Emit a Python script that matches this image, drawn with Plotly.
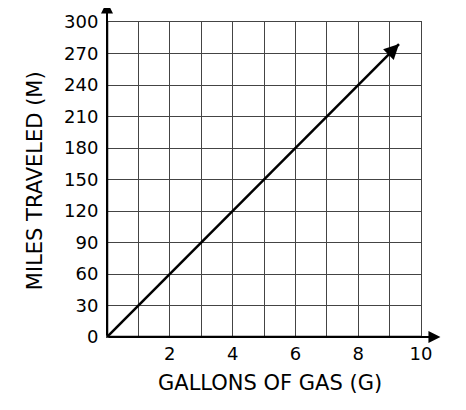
import plotly.graph_objects as go

gallons = [0, 9.3]
miles = [0, 279]
x_ticks = [2, 4, 6, 8, 10]
y_ticks = [0, 30, 60, 90, 120, 150, 180, 210, 240, 270, 300]
x_title = "GALLONS OF GAS (G)"
y_title = "MILES TRAVELED (M)"

font = "'DejaVu Sans', sans-serif"
grid = "#444"

fig = go.Figure()
fig.add_trace(go.Scatter(x=gallons, y=miles, mode="lines",
                         line=dict(color="black", width=2.5), hoverinfo="skip"))

# arrowhead at end of data line
fig.add_annotation(x=gallons[1], y=miles[1], ax=gallons[1] - 0.35, ay=miles[1] - 10.5,
                   xref="x", yref="y", axref="x", ayref="y", text="", showarrow=True,
                   arrowhead=2, arrowsize=1.2, arrowwidth=2.5, arrowcolor="black")
# axis arrows
fig.add_annotation(x=0, y=1.065, ax=0, ay=0, xref="x", yref="y domain", axref="x", ayref="y domain",
                   text="", showarrow=True, arrowhead=2, arrowsize=1.2, arrowwidth=2, arrowcolor="black")
fig.add_annotation(x=1.062, y=0, ax=0, ay=0, xref="x domain", yref="y", axref="x domain", ayref="y",
                   text="", showarrow=True, arrowhead=2, arrowsize=1.2, arrowwidth=2, arrowcolor="black")

# axis titles
fig.add_annotation(text=x_title, xref="paper", yref="paper", x=0.518, y=-0.145,
                   xanchor="center", yanchor="middle", showarrow=False,
                   font=dict(family=font, size=21, color="black"))
fig.add_annotation(text=y_title, xref="paper", yref="paper", x=-0.229, y=0.495,
                   xanchor="center", yanchor="middle", showarrow=False, textangle=-90,
                   font=dict(family=font, size=21, color="black"))

fig.update_layout(
    width=466, height=410,
    margin=dict(l=99, r=53, t=14, b=81),
    plot_bgcolor="white", paper_bgcolor="white",
    showlegend=False,
    font=dict(family=font, color="black", size=16),
)
fig.update_xaxes(range=[0, 10], tickvals=x_ticks, ticktext=[str(v) for v in x_ticks],
                 showgrid=True, gridcolor=grid, gridwidth=1, automargin=False,
                 zeroline=False, showline=True, linecolor=grid, linewidth=1, mirror=True, ticks="",
                 minor=dict(dtick=1, tick0=0, showgrid=True, gridcolor=grid, gridwidth=1),
                 tickfont=dict(size=18), ticklabelstandoff=0)
fig.update_yaxes(range=[0, 300], tickvals=y_ticks, ticktext=[str(v) for v in y_ticks],
                 showgrid=True, gridcolor=grid, gridwidth=1, zeroline=False, automargin=False,
                 showline=True, linecolor=grid, linewidth=1, mirror=True, ticks="",
                 tickfont=dict(size=18), ticklabelstandoff=4)
# axis lines (left and bottom)
fig.add_shape(type="line", xref="x", yref="y", x0=0, x1=10, y0=0, y1=0, line=dict(color="black", width=2.5))
fig.add_shape(type="line", xref="x", yref="y", x0=0, x1=0, y0=0, y1=300, line=dict(color="black", width=2.5))

fig.write_html("out.html")
